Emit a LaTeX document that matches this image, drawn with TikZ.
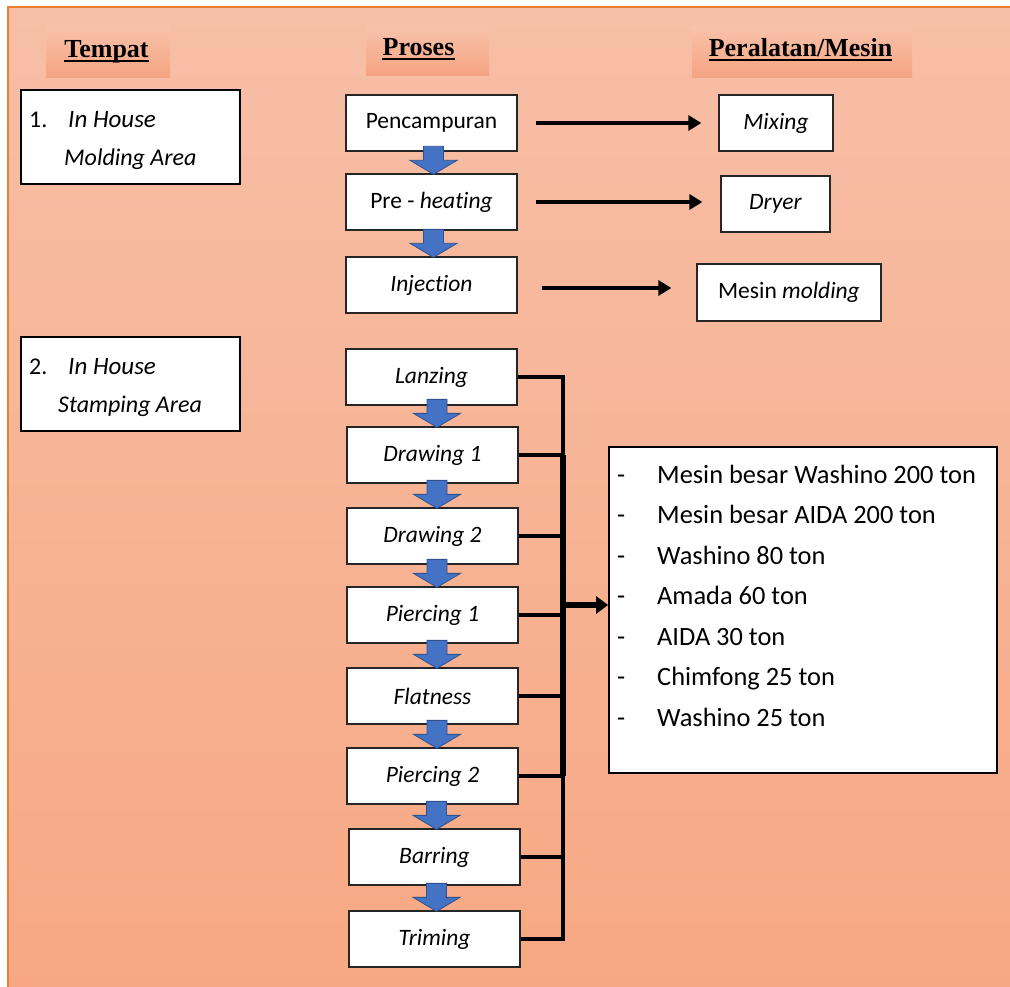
\documentclass[tikz,border=0pt]{standalone}
\usepackage{fontspec}
\setmainfont{Carlito}[Ligatures=NoCommon]
\newfontfamily\hdrfont{Liberation Serif}
\usetikzlibrary{arrows.meta,calc}
\definecolor{bgtop}{RGB}{247,191,167}
\definecolor{bgbot}{RGB}{247,168,131}
\definecolor{hdtop}{RGB}{248,194,170}
\definecolor{hdbot}{RGB}{245,163,128}
\definecolor{edgeor}{RGB}{237,125,49}
\definecolor{arrblue}{RGB}{68,114,196}
\definecolor{arredge}{RGB}{47,82,143}
\tikzset{
  pbox/.style={draw=black!85, line width=1.3pt, fill=white, minimum width=171pt,
    minimum height=56pt, inner sep=0pt, font=\fontsize{23.5}{28}\selectfont},
  lbox/.style={draw=black, line width=2pt, fill=white, inner sep=0pt},
  ltext/.style={inner sep=0pt, anchor=base west, font=\fontsize{24}{28}\selectfont},
  listtext/.style={inner sep=0pt, anchor=base west, font=\fontsize{26.4}{30}\selectfont},
  hdrbg/.style={inner sep=0pt, top color=hdtop, bottom color=hdbot, draw=none},
  hdrtext/.style={inner sep=0pt, anchor=base, font=\hdrfont\bfseries\fontsize{26}{30}\selectfont},
  uline/.style={line width=2pt},
  sidearrow/.style={line width=3.5pt, -{Triangle[length=13pt,width=15pt]}},
  conn/.style={line width=3.2pt},
  mainarrow/.style={line width=6pt, -{Triangle[length=12pt,width=17pt]}},
  downarr/.pic={\draw[fill=arrblue, draw=arredge, line width=0.8pt]
    (-10,-28) -- (10,-28) -- (10,-14) -- (23.5,-14) -- (0,0) -- (-23.5,-14) -- (-10,-14) -- cycle;}
}
\begin{document}
\begin{tikzpicture}[x=1pt,y=-1pt]
\useasboundingbox (0,0) rectangle (1010,987);
% background
\shade[top color=bgtop, bottom color=bgbot] (8,7) rectangle (1010,987);
\draw[edgeor, line width=1.5pt] (8,987) -- (8,7) -- (1010,7);

% headers
\node[hdrbg, minimum width=124pt, minimum height=51pt] (hb1) at (108,52.5) {};
\node[hdrbg, minimum width=123pt, minimum height=49pt] (hb2) at (427.5,51.5) {};
\node[hdrbg, minimum width=220pt, minimum height=51pt] (hb3) at (802,52.5) {};
\node[hdrtext] (h1) at (106.5,58) {Tempat};
\node[hdrtext] (h2) at (418.5,56) {Proses};
\node[hdrtext] (h3) at (800.5,57) {Peralatan/Mesin};
\foreach \h in {h1,h2,h3}
  \draw[uline] ([yshift=-3.5pt]\h.base west) -- ([yshift=-3.5pt]\h.base east);

% left boxes
\node[lbox, minimum width=219pt, minimum height=94pt] (lb1) at (130.5,137) {};
\node[lbox, minimum width=219pt, minimum height=94pt] (lb2) at (130.5,384) {};
\node[ltext] (n1) at (29,128) {1.};
\node[ltext, font=\fontsize{25}{28}\selectfont\itshape] (n1a) at (68,128) {In House};
\node[ltext, font=\fontsize{24}{28}\selectfont\itshape] (n1b) at (64,166) {Molding Area};
\node[ltext] (n2) at (29,374) {2.};
\node[ltext, font=\fontsize{25}{28}\selectfont\itshape] (n2a) at (68,374) {In House};
\node[ltext, font=\fontsize{24}{28}\selectfont\itshape] (n2b) at (58,412) {Stamping Area};

% process boxes (molding)
\node[pbox] (pc) at (431.5,123) {Pencampuran};
\node[pbox] (ph) at (431.5,202) {Pre - \textit{heating}};
\node[pbox] (inj) at (431.5,285) {\textit{Injection}};

% equipment boxes
\node[pbox, minimum width=114pt, minimum height=56pt] (mix) at (776,123) {\textit{Mixing}};
\node[pbox, minimum width=109pt, minimum height=56pt] (dry) at (775.5,204) {\textit{Dryer}};
\node[pbox, minimum width=184pt, minimum height=57pt] (mm) at (789,292.5) {Mesin \textit{molding}};

% stamping boxes
\node[pbox] (lz) at (431.5,377) {\textit{Lanzing}};
\node[pbox] (d1) at (432.5,455) {\textit{Drawing 1}};
\node[pbox] (d2) at (432.5,536) {\textit{Drawing 2}};
\node[pbox] (p1) at (432.5,615) {\textit{Piercing 1}};
\node[pbox] (fl) at (432.5,696) {\textit{Flatness}};
\node[pbox] (p2) at (432.5,776) {\textit{Piercing 2}};
\node[pbox] (br) at (434.5,857) {\textit{Barring}};
\node[pbox] (tr) at (434.5,939) {\textit{Triming}};

% list box
\node[lbox, line width=1.8pt, minimum width=388pt, minimum height=326pt] (list) at (803,610) {};
\foreach \t [count=\i from 0] in {Mesin besar Washino 200 ton, Mesin besar AIDA 200 ton, Washino 80 ton, Amada 60 ton, AIDA 30 ton, Chimfong 25 ton, Washino 25 ton}{
  \node[listtext] (ld\i) at (617,483+40.5*\i) {-};
  \node[listtext] (lt\i) at (657,483+40.5*\i) {\t};
}

% side arrows
\draw[sidearrow] ([xshift=18pt]pc.east) -- ([xshift=-17pt]mix.west);
\draw[sidearrow] ([xshift=18pt]ph.east) -- ([xshift=-18pt]ph.east -| dry.west);
\coordinate (injs) at ([shift={(24,3)}]inj.east);
\draw[sidearrow] (injs) -- ([xshift=-25pt]injs -| mm.west);

% down block arrows
\pic at ([xshift=2pt,yshift=-1pt]ph.north) {downarr};
\pic at ([xshift=2pt,yshift=-1pt]inj.north) {downarr};
\foreach \b in {d1,d2,p1,fl,p2}
  \pic at ([xshift=4.5pt,yshift=-1pt]\b.north) {downarr};
\foreach \b in {br,tr}
  \pic at ([xshift=2pt,yshift=-1pt]\b.north) {downarr};

% bracket connectors
\coordinate (jn) at (563,605);
\foreach \b in {lz,d1,d2,p1,fl,p2,br,tr}
  \draw[conn] (\b.east) -| (jn);
\draw[line width=5.5pt] (d1.east -| jn) -- (p2.east -| jn);
\draw[mainarrow] (jn) -- (jn -| list.west);
\end{tikzpicture}
\end{document}
